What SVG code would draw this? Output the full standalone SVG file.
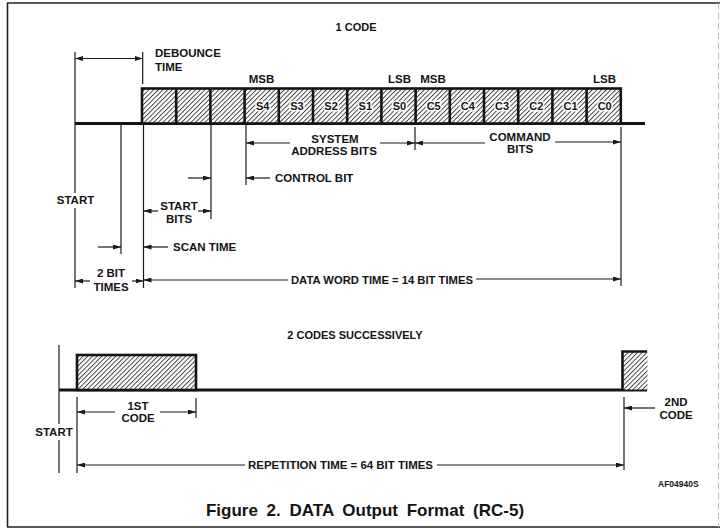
<svg xmlns="http://www.w3.org/2000/svg" width="720" height="529" viewBox="0 0 720 529">
<defs>
<style>
.t{font-family:"Liberation Sans",Arial,Helvetica,sans-serif;font-weight:bold;font-size:11.5px;fill:#141414}
.tc{text-anchor:middle}
.cell{font-size:11px;text-anchor:middle;stroke:#fff;stroke-width:3;paint-order:stroke}
.ln{stroke:#1a1a1a;stroke-width:1.2;fill:none}
.ar{stroke:#1a1a1a;stroke-width:1.2;fill:none;marker-end:url(#ah)}
.base{stroke:#141414;stroke-width:3;fill:none}
.box{stroke:#141414;stroke-width:2.6;fill:url(#hatch)}
.div{stroke:#141414;stroke-width:2.6}
.frame{stroke:#222;stroke-width:1.6;fill:none}
</style>
<pattern id="hatch" patternUnits="userSpaceOnUse" width="3.3" height="3.3" patternTransform="rotate(45)">
<rect width="3.3" height="3.3" fill="#fff"/>
<line x1="0.5" y1="0" x2="0.5" y2="3.3" stroke="#2a2a2a" stroke-width="0.85"/>
</pattern>
<marker id="ah" viewBox="0 0 8 5" refX="8" refY="2.5" markerWidth="8" markerHeight="5" markerUnits="userSpaceOnUse" orient="auto">
<path d="M0,0 L8,2.5 L0,5 z" fill="#1a1a1a"/>
</marker>
</defs>
<rect width="720" height="529" fill="#fff"/>

<g id="frame">
<line class="frame" x1="7" y1="3" x2="720" y2="3"/>
<line class="frame" x1="7.5" y1="3" x2="7.5" y2="527"/>
<line class="frame" x1="7" y1="527" x2="720" y2="527"/>
<line x1="718.5" y1="3" x2="718.5" y2="527" stroke="#bbb" stroke-width="1" stroke-dasharray="6 4"/>
</g>

<g id="title-1code"><text class="t tc" x="356" y="31" style="font-size:11px">1 CODE</text></g>

<g id="waveform-1code">
<line class="base" x1="75" y1="123.5" x2="645" y2="123.5"/>
<rect class="box" x="142" y="88.5" width="478.8" height="35"/>
<g>
<line class="div" x1="176.2" y1="88.5" x2="176.2" y2="123.5"/>
<line class="div" x1="210.4" y1="88.5" x2="210.4" y2="123.5"/>
<line class="div" x1="244.6" y1="88.5" x2="244.6" y2="123.5"/>
<line class="div" x1="278.8" y1="88.5" x2="278.8" y2="123.5"/>
<line class="div" x1="313" y1="88.5" x2="313" y2="123.5"/>
<line class="div" x1="347.2" y1="88.5" x2="347.2" y2="123.5"/>
<line class="div" x1="381.4" y1="88.5" x2="381.4" y2="123.5"/>
<line class="div" x1="415.6" y1="88.5" x2="415.6" y2="123.5"/>
<line class="div" x1="449.8" y1="88.5" x2="449.8" y2="123.5"/>
<line class="div" x1="484" y1="88.5" x2="484" y2="123.5"/>
<line class="div" x1="518.2" y1="88.5" x2="518.2" y2="123.5"/>
<line class="div" x1="552.4" y1="88.5" x2="552.4" y2="123.5"/>
<line class="div" x1="586.6" y1="88.5" x2="586.6" y2="123.5"/>
</g>
<g>
<text class="t cell" x="262.7" y="110">S4</text>
<text class="t cell" x="296.9" y="110">S3</text>
<text class="t cell" x="331.1" y="110">S2</text>
<text class="t cell" x="365.3" y="110">S1</text>
<text class="t cell" x="399.5" y="110">S0</text>
<text class="t cell" x="433.7" y="110">C5</text>
<text class="t cell" x="467.9" y="110">C4</text>
<text class="t cell" x="502.1" y="110">C3</text>
<text class="t cell" x="536.3" y="110">C2</text>
<text class="t cell" x="570.5" y="110">C1</text>
<text class="t cell" x="604.7" y="110">C0</text>
</g>
<text class="t tc" x="261.5" y="83">MSB</text>
<text class="t tc" x="399.5" y="83">LSB</text>
<text class="t tc" x="433" y="83">MSB</text>
<text class="t tc" x="604.5" y="83">LSB</text>
</g>

<g id="label-debounce"><text class="t" x="155" y="57">DEBOUNCE</text><text class="t" x="155" y="71">TIME</text></g>
<g id="label-start-top"><text class="t tc" x="75.5" y="204">START</text></g>
<g id="label-system"><text class="t tc" x="335" y="143">SYSTEM</text><text class="t tc" x="334" y="155">ADDRESS BITS</text></g>
<g id="label-command"><text class="t tc" x="520" y="141">COMMAND</text><text class="t tc" x="520" y="153">BITS</text></g>
<g id="label-control"><text class="t" x="275" y="182">CONTROL BIT</text></g>
<g id="label-startbits"><text class="t tc" x="179" y="210">START</text><text class="t tc" x="179" y="223">BITS</text></g>
<g id="label-scan"><text class="t" x="173" y="251">SCAN TIME</text></g>
<g id="label-2bit"><text class="t tc" x="111" y="277">2 BIT</text><text class="t tc" x="111" y="291">TIMES</text></g>
<g id="label-dataword"><text class="t" x="291" y="284" textLength="182" lengthAdjust="spacingAndGlyphs">DATA WORD TIME = 14 BIT TIMES</text></g>

<g id="title-2codes"><text class="t tc" x="355" y="339" style="font-size:11px">2 CODES SUCCESSIVELY</text></g>

<g id="waveform-2codes">
<line class="base" x1="59" y1="390" x2="647" y2="390"/>
<rect class="box" x="77" y="355" width="119" height="35"/>
<rect x="622.5" y="351.5" width="25" height="38" fill="url(#hatch)"/>
<path d="M622.5,390 L622.5,351.5 L647,351.5" stroke="#141414" stroke-width="2.6" fill="none"/>
</g>

<g id="label-start-bottom"><text class="t tc" x="54" y="436">START</text></g>
<g id="label-1st"><text class="t tc" x="138" y="410">1ST</text><text class="t tc" x="138" y="422">CODE</text></g>
<g id="label-2nd"><text class="t tc" x="676" y="406">2ND</text><text class="t tc" x="676" y="419">CODE</text></g>
<g id="label-repetition"><text class="t" x="248" y="469" textLength="185" lengthAdjust="spacingAndGlyphs">REPETITION TIME = 64 BIT TIMES</text></g>
<g id="label-ref"><text class="t" x="658" y="487" style="font-size:8.5px">AF04940S</text></g>
<g id="caption"><text class="t tc" x="365" y="516" style="font-size:17px" word-spacing="4">Figure 2. DATA Output Format (RC-5)</text></g>

<g id="connectors">
<!-- top section verticals -->
<line class="ln" x1="75" y1="52" x2="75" y2="193"/>
<line class="ln" x1="75" y1="208" x2="75" y2="288"/>
<line class="ln" x1="142.7" y1="52" x2="142.7" y2="84"/>
<line class="ln" x1="121" y1="125" x2="121" y2="254"/>
<line class="ln" x1="143.5" y1="125" x2="143.5" y2="288"/>
<line class="ln" x1="211" y1="125" x2="211" y2="219"/>
<line class="ln" x1="246" y1="125" x2="246" y2="185"/>
<line class="ln" x1="415" y1="127" x2="415" y2="150"/>
<line class="ln" x1="621" y1="127" x2="621" y2="286"/>
<!-- debounce -->
<line class="ar" x1="108" y1="58.5" x2="75" y2="58.5"/>
<line class="ar" x1="108" y1="58.5" x2="142.7" y2="58.5"/>
<!-- system address bits -->
<line class="ar" x1="290" y1="143" x2="246" y2="143"/>
<line class="ar" x1="380" y1="143" x2="415" y2="143"/>
<!-- command bits -->
<line class="ar" x1="485" y1="143" x2="415" y2="143"/>
<line class="ar" x1="555" y1="142" x2="621" y2="142"/>
<!-- control bit -->
<line class="ar" x1="270" y1="178" x2="246" y2="178"/>
<line class="ar" x1="188" y1="178" x2="211" y2="178"/>
<!-- start bits -->
<line class="ar" x1="158" y1="211" x2="143.5" y2="211"/>
<line class="ar" x1="198" y1="211" x2="211" y2="211"/>
<!-- scan time -->
<line class="ar" x1="168" y1="247" x2="143.5" y2="247"/>
<line class="ar" x1="98" y1="247" x2="121" y2="247"/>
<!-- 2 bit times -->
<line class="ar" x1="90" y1="281" x2="75" y2="281"/>
<line class="ar" x1="132" y1="281" x2="143.5" y2="281"/>
<!-- data word time -->
<line class="ar" x1="288" y1="280" x2="143.5" y2="280"/>
<line class="ar" x1="476" y1="279" x2="621" y2="279"/>
<!-- bottom section -->
<line class="ln" x1="59" y1="345" x2="59" y2="424"/>
<line class="ln" x1="59" y1="440" x2="59" y2="473"/>
<line class="ln" x1="77" y1="397" x2="77" y2="473"/>
<line class="ln" x1="196" y1="398" x2="196" y2="418"/>
<line class="ln" x1="624" y1="397" x2="624" y2="470"/>
<line class="ar" x1="115" y1="412" x2="77" y2="412"/>
<line class="ar" x1="160" y1="412" x2="196" y2="412"/>
<line class="ar" x1="245" y1="465" x2="77" y2="465"/>
<line class="ar" x1="437" y1="465" x2="624" y2="465"/>
<line class="ar" x1="655" y1="408" x2="624" y2="408"/>
</g>
</svg>
